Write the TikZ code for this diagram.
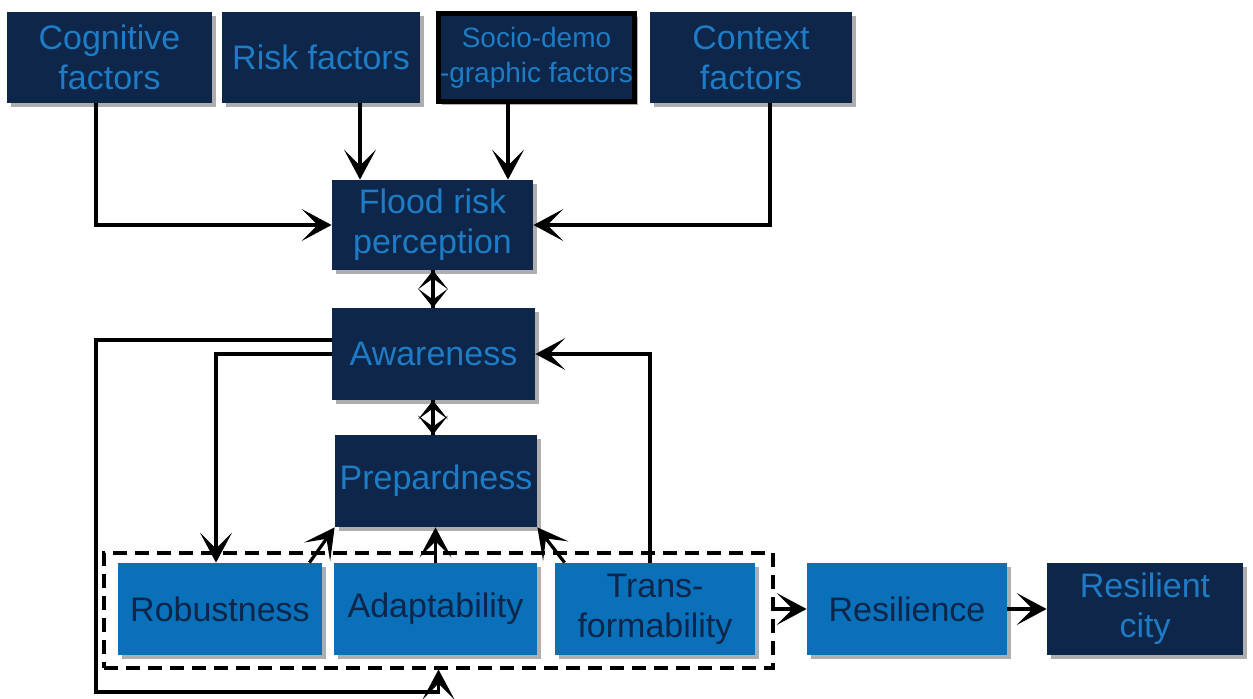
\documentclass[tikz,border=0pt]{standalone}
\usepackage{fontspec}
\setmainfont{Liberation Sans}
\usetikzlibrary{arrows.meta,shadows}
\definecolor{navy}{RGB}{13,38,73}
\definecolor{txtblue}{RGB}{30,124,198}
\definecolor{lblue}{RGB}{10,112,186}
\tikzset{
  dbox/.style={draw=none,fill=navy,text=txtblue,align=center,inner sep=0pt,
    font=\fontsize{17}{20}\selectfont,
    drop shadow={shadow xshift=1.8pt,shadow yshift=-1.8pt,opacity=0.45,fill=black!70}},
  lbox/.style={dbox,fill=lblue,text=navy},
  arr/.style={line width=1.6pt,-{Stealth[length=15pt,width=16pt,inset=8pt]}},
  harr/.style={line width=1.6pt,-{Stealth[length=9.5pt,width=15pt,inset=5.5pt]}},
  grpbox/.style={draw=black,line width=2pt,dash pattern=on 7pt off 4pt,inner sep=0pt}
}
\begin{document}
\begin{tikzpicture}[x=0.5pt,y=-0.5pt]
\useasboundingbox[fill=white] (0,0) rectangle (1253,698);
% top row
\node[dbox,minimum width=102.5pt,minimum height=45.5pt] (cog) at (109.5,57.5) {Cognitive\\factors};
\node[dbox,minimum width=99pt,minimum height=45.5pt] (risk) at (321,57.5) {Risk factors};
\node[dbox,draw=black,line width=2.8pt,minimum width=98pt,minimum height=44pt,font=\fontsize{14}{17.5}\selectfont] (socio) at (536.5,57.5) {Socio-demo\\-graphic factors};
\node[dbox,minimum width=101pt,minimum height=45.5pt] (ctx) at (751,57.5) {Context\\factors};
% middle column
\node[dbox,minimum width=100.5pt,minimum height=45pt] (flood) at (432.5,225) {Flood risk\\perception};
\node[dbox,minimum width=101.5pt,minimum height=46pt] (aware) at (433.5,354) {Awareness};
\node[dbox,minimum width=101pt,minimum height=46pt] (prep) at (436,481) {Prepardness};
% bottom row
\node[grpbox,minimum width=334.5pt,minimum height=57.5pt] (grp) at (438.5,610) {};
\node[lbox,minimum width=102pt,minimum height=46pt] (rob) at (220,609) {Robustness};
\node[lbox,minimum width=101.5pt,minimum height=46pt] (adapt) at (435.5,609) {Adaptability};
\node[lbox,minimum width=100pt,minimum height=46pt] (trans) at (655,609) {Trans-\\formability};
\node[lbox,minimum width=100pt,minimum height=46pt] (resil) at (907,609) {Resilience};
\node[dbox,minimum width=98pt,minimum height=46pt] (city) at (1145,609) {Resilient\\city};
% lane coordinates
\coordinate (xL) at (96,0);
\coordinate (xR) at (216,0);
\coordinate (xr) at (360,0);
\coordinate (xs) at (508,0);
\coordinate (xT) at (650,0);
\coordinate (xC) at (770,0);
\coordinate (yB) at (0,692);
\coordinate (xM) at (433,0);
% connectors
\draw[arr] (cog.south -| xL) |- (flood.west);
\draw[arr] (risk.south -| xr) -- (flood.north -| xr);
\draw[arr] (socio.south -| xs) -- (flood.north -| xs);
\draw[arr] (ctx.south -| xC) |- (flood.east);
\draw[harr] (flood.south -| xM) -- (aware.north -| xM);
\draw[harr] (aware.north -| xM) -- (flood.south -| xM);
\draw[harr] (aware.south -| xM) -- (prep.north -| xM);
\draw[harr] (prep.north -| xM) -- (aware.south -| xM);
\draw[arr] ([yshift=7pt]aware.west) -| (xL |- yB) -| (grp.south);
\draw[arr] (aware.west) -| (rob.north -| xR);
\draw[arr] (trans.north -| xT) |- (aware.east);
\draw[arr] ([xshift=-6.5pt]rob.north east) -- (prep.south west);
\draw[arr] (adapt.north) -- (adapt.north |- prep.south);
\draw[arr] ([xshift=5pt]trans.north west) -- (prep.south east);
\draw[arr] (grp.east |- resil.west) -- (resil.west);
\draw[arr] (resil.east) -- (city.west);
\end{tikzpicture}
\end{document}
